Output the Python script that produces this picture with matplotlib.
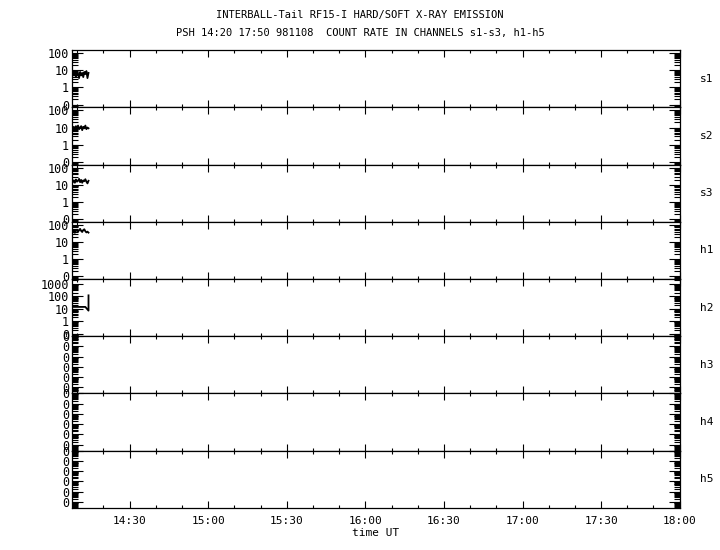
import matplotlib
matplotlib.use("Agg")
import matplotlib.pyplot as plt
from matplotlib.ticker import LogLocator, FuncFormatter, MultipleLocator, FixedLocator
import numpy as np

# time in minutes after 14:00 UT
t_s = [8.3, 8.7, 9.1, 9.5, 9.9, 10.3, 10.7, 11.1, 11.5, 11.9, 12.3, 12.7, 13.1, 13.5, 13.9, 14.3]
s1 = [7, 5, 8, 4, 9, 6, 3.5, 8, 5, 7, 4, 8, 6, 9, 3.5, 7]
s2 = [8, 11, 7, 12, 9, 13, 8, 10, 12, 7, 11, 9, 13, 8, 10, 9]
s3 = [14, 18, 13, 20, 15, 17, 22, 14, 19, 13, 18, 16, 21, 15, 12, 17]
h1 = [36, 40, 34, 45, 52, 40, 48, 58, 44, 38, 50, 55, 42, 36, 40, 35]
t_h2 = [8.3, 9.5, 10.7, 11.9, 13.1, 14.3, 14.3]
h2 = [14, 14, 14, 14, 14, 7, 120]

channels = ["s1", "s2", "s3", "h1", "h2", "h3", "h4", "h5"]
series = {"s1": (t_s, s1), "s2": (t_s, s2), "s3": (t_s, s3),
          "h1": (t_s, h1), "h2": (t_h2, h2)}
ylims = {"s1": (0.07, 150), "s2": (0.07, 150), "s3": (0.07, 150),
         "h1": (0.07, 150), "h2": (0.06, 2500),
         "h3": (10**-6.6, 10**-1.0), "h4": (10**-6.6, 10**-1.0), "h5": (10**-6.6, 10**-1.0)}

xticks = [30, 60, 90, 120, 150, 180, 210, 240]
xlabels = ["14:30", "15:00", "15:30", "16:00", "16:30", "17:00", "17:30", "18:00"]

mono = "DejaVu Sans Mono"

fig, axes = plt.subplots(8, 1, figsize=(7.2, 5.5), dpi=100, sharex=True)
fig.subplots_adjust(left=0.1, right=0.944, top=0.909, bottom=0.0764, hspace=0)

def fmt(v, pos):
    if v < 1:
        return "0"
    return "%d" % round(v)

for ax, ch in zip(axes, channels):
    ax.set_yscale("log")
    ax.set_ylim(*ylims[ch])
    if ch in series:
        t, v = series[ch]
        ax.plot(t, v, color="black", lw=1.3)
    ax.yaxis.set_major_locator(LogLocator(base=10, numticks=30))
    ax.yaxis.set_minor_locator(LogLocator(base=10, subs=np.arange(2, 10), numticks=30))
    ax.yaxis.set_major_formatter(FuncFormatter(fmt))
    ax.yaxis.set_minor_formatter(FuncFormatter(lambda v, p: ""))
    ax.tick_params(axis="y", which="major", direction="in", length=8, width=0.8,
                   left=True, right=True, labelsize=8.5, pad=2)
    ax.tick_params(axis="y", which="minor", direction="in", length=4, width=0.8,
                   left=True, right=True)
    ax.tick_params(axis="x", which="major", direction="in", length=5, width=0.8,
                   top=True, bottom=True, pad=6)
    ax.tick_params(axis="x", which="minor", direction="in", length=2.5, width=0.8,
                   top=True, bottom=True)
    for lab in ax.get_yticklabels():
        lab.set_family(mono)
    for sp in ax.spines.values():
        sp.set_linewidth(0.9)
    ax.text(1.033, 0.5, ch, transform=ax.transAxes, va="center", ha="left",
            fontsize=8, family=mono)

axes[-1].set_xlim(8, 240)
axes[-1].xaxis.set_major_locator(FixedLocator(xticks))
axes[-1].set_xticklabels(xlabels, family=mono, fontsize=8)
axes[-1].xaxis.set_minor_locator(MultipleLocator(10))
axes[-1].set_xlabel("time UT", family=mono, fontsize=8, labelpad=1)

fig.text(0.5, 0.972, "INTERBALL-Tail RF15-I HARD/SOFT X-RAY EMISSION",
         ha="center", va="center", fontsize=7.5, family=mono)
fig.text(0.5, 0.94, "PSH 14:20 17:50 981108  COUNT RATE IN CHANNELS s1-s3, h1-h5",
         ha="center", va="center", fontsize=7.5, family=mono)

fig.savefig("out.png", dpi=100)
